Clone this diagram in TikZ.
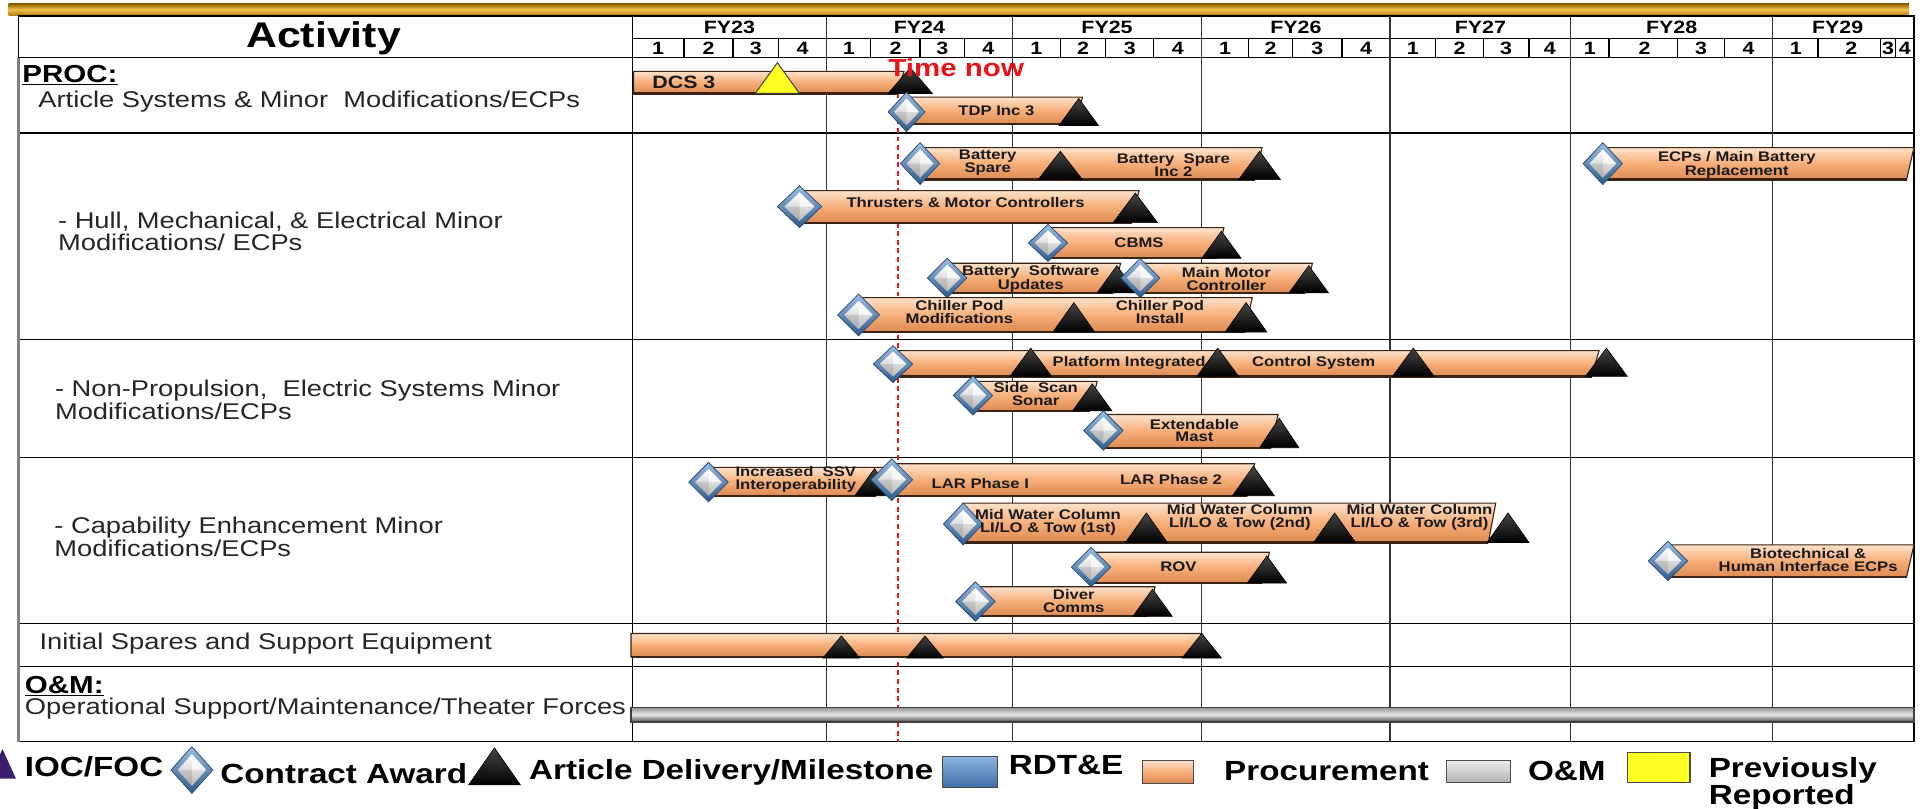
\documentclass[tikz,border=0pt]{standalone}
\usepackage{fontspec}
\setmainfont{Liberation Sans}
\definecolor{barA}{HTML}{FDE2CB}
\definecolor{barB}{HTML}{F7AE78}
\definecolor{barC}{HTML}{DC8A52}
\definecolor{barEdge}{HTML}{3A2312}
\definecolor{diaA}{HTML}{9DBCE0}
\definecolor{diaB}{HTML}{2E5B8C}
\definecolor{diaEdge}{HTML}{274C75}
\definecolor{goldA}{HTML}{8C5E00}
\definecolor{goldB}{HTML}{F3C24C}
\definecolor{goldC}{HTML}{B07C12}
\definecolor{gridc}{HTML}{333333}
\definecolor{nowred}{HTML}{E8141B}
\definecolor{iocp}{HTML}{3A1F6B}
\definecolor{rdteA}{HTML}{8DB4E2}
\definecolor{rdteB}{HTML}{3F6FA8}
\definecolor{yelA}{HTML}{FFFF22}
% orange activity bar: x1, x2, ytop, ybottom
\newcommand{\pbar}[4]{%
  \path[top color=barA, bottom color=barC, middle color=barB, draw=barEdge, line width=0.9pt]
    (#1,#3) -- (#2,#3) -- (#2-6,#4) -- (#1,#4) -- cycle;
  \draw[barEdge, line width=1.8pt] (#1,#4) -- (#2-6,#4);
}
% contract award diamond: x, y, half width, half height
\newcommand{\award}[4]{%
  \path[top color=diaA, bottom color=diaB, draw=diaEdge, line width=0.6pt]
    (#1,#2-#4) -- (#1+#3,#2) -- (#1,#2+#4) -- (#1-#3,#2) -- cycle;
  \path[top color=white, bottom color=gray!55]
    (#1,#2-0.68*#4) -- (#1+0.68*#3,#2) -- (#1,#2+0.68*#4) -- (#1-0.68*#3,#2) -- cycle;
  \fill[white, opacity=0.7] (#1,#2-0.68*#4) -- (#1+0.68*#3,#2) -- (#1,#2) -- cycle;
  \fill[gray, opacity=0.25] (#1,#2+0.68*#4) -- (#1-0.68*#3,#2) -- (#1,#2) -- cycle;
}
% milestone triangle: x, base y, half width, height
\newcommand{\mtri}[4]{%
  \path[top color=gray!55!black, bottom color=black, draw=black, line width=0.5pt]
    (#1-#3,#2) -- (#1,#2-#4) -- (#1+#3,#2) -- cycle;
}
\begin{document}
\begin{tikzpicture}[x=1pt,y=-1pt,
  lbl/.style={font=\fontsize{11.3}{10.5}\selectfont\bfseries, align=center, inner sep=0pt, xscale=1.2, text=black!90},
  hdr/.style={font=\fontsize{14.5}{14}\selectfont\bfseries, inner sep=0pt, xscale=1.2},
  side/.style={font=\fontsize{18.5}{18.5}\selectfont, align=left, anchor=west, inner sep=0pt, xscale=1.2, text=black!85},
  sect/.style={font=\fontsize{20}{20}\selectfont\bfseries, anchor=west, inner sep=0pt, xscale=1.2},
  leg/.style={font=\fontsize{22.5}{23}\selectfont\bfseries, anchor=west, inner sep=0pt, xscale=1.2},
  gridl/.style={draw=gridc, line width=1.1pt}
]
\useasboundingbox (0,0) rectangle (1565,657);
\fill[white] (0,0) rectangle (1565,657);

% golden top band
\path[top color=goldA, bottom color=goldC, middle color=goldB] (7,3) rectangle (1552,12.5);

% ---------- grid ----------
\draw[black, line width=1.1pt] (15,13) rectangle (1556,603);
\draw[black, line width=1.1pt] (514,13) -- (514,603);
\draw[black, line width=1pt] (514,31) -- (1556,31);
\foreach \yy in {47,108,276,372,507,542}
  \draw[black, line width=1.1pt] (15,\yy) -- (1556,\yy);
\foreach \xx in {672,823,977,1130,1277,1441}
  \draw[gridl] (\xx,13) -- (\xx,603);
\foreach \xx in {556,596,633,708,748,784,862,899,938,1015,1051,1091,1167,1206,1243,1308,1364,1402,1478,1529,1541}
  \draw[black, line width=1pt] (\xx,31) -- (\xx,47);
\draw[gray, line width=2.2pt] (15,47) -- (15,603);

% header texts
\node[font=\fontsize{29}{30}\selectfont\bfseries, inner sep=0pt, xscale=1.2] (act) at (263,31) {Activity};
\foreach \nm/\xx in {FY23/593, FY24/747.5, FY25/900, FY26/1053.5, FY27/1203.5, FY28/1359, FY29/1494}
  \node[hdr] (\nm) at (\xx,22.5) {\nm};
\foreach \xx/\qq [count=\i] in {535/1,576/2,614.5/3,652.5/4, 690/1,728/2,766/3,803.5/4,
   842.5/1,880.5/2,918.5/3,957.5/4, 996/1,1033/2,1071/3,1110.5/4, 1148.5/1,1186.5/2,1224.5/3,1260/4,
   1292.5/1,1337/2,1383/3,1421.5/4, 1460/1,1505/2,1535/3,1548.5/4}
  \node[hdr] (q\i) at (\xx,39.5) {\qq};

% row labels
\node[sect] (proc) at (18,61) {\underline{PROC:}};
\node[side] (art) at (31,83) {Article Systems \& Minor\ \ Modifications/ECPs};
\node[side] (hull) at (47,188) {- Hull, Mechanical,\ \& Electrical Minor\\Modifications/\ ECPs};
\node[side] (nonp) at (44.5,325) {- Non-Propulsion,\ \ Electric Systems Minor\\Modifications/ECPs};
\node[side] (capa) at (44,436.5) {- Capability Enhancement Minor\\Modifications/ECPs};
\node[side] (isse) at (32,523) {Initial Spares and Support Equipment};
\node[sect] (oandm) at (20,558) {\underline{O\&M:}};
\node[side] (opsu) at (20,576) {Operational Support/Maintenance/Theater Forces};

% time now line
\draw[nowred, line width=1pt, dash pattern=on 4pt off 3pt] (730,62) -- (730,603);

% ---------- bars ----------
% DCS 3
\pbar{515}{735}{58}{76}
\path[fill=yelA, draw=black!75, line width=0.8pt] (614,76) -- (632,51) -- (650,76) -- cycle;
\mtri{740}{76}{18}{21}
\node[lbl, font=\fontsize{14.5}{15}\selectfont\bfseries] (dcs) at (556,67) {DCS 3};
% TDP Inc 3
\pbar{737}{880}{79}{101}
\mtri{877}{102}{16}{22}
\award{737}{91}{15}{16}
\node[lbl] (tdp) at (810,90) {TDP Inc 3};
% Battery spare
\pbar{748}{1026}{120}{146}
\mtri{862}{146}{18}{23}
\mtri{1024}{146}{17}{23}
\award{748}{133}{16}{17}
\node[lbl] (bsp) at (803,132.5) {Battery\\Spare};
\node[lbl] (bsp2) at (954,134) {Battery\ \ Spare\\Inc 2};
% ECPs / Main battery
\pbar{1303}{1556}{120}{146}
\award{1303}{133}{16}{17}
\node[lbl] (ecp) at (1412,134) {ECPs / Main Battery\\Replacement};
% Thrusters
\pbar{650}{926}{155}{181}
\mtri{923}{181}{18}{24}
\award{650}{168}{18}{17}
\node[lbl] (thr) at (785,165) {Thrusters \& Motor Controllers};
% CBMS
\pbar{852}{995}{185}{210}
\mtri{993}{210}{16}{22}
\award{852}{197.5}{16}{15}
\node[lbl] (cbms) at (926,197) {CBMS};
% Battery software / main motor
\pbar{770}{911}{214}{238}
\mtri{908}{238}{16}{22}
\award{770}{226}{16}{16}
\node[lbl] (bsu) at (838,226.5) {Battery\ \ Software\\Updates};
\pbar{927}{1067}{214}{238}
\mtri{1064}{238}{16}{22}
\award{927}{226}{16}{16}
\node[lbl] (mmc) at (997,226.5) {Main Motor\\Controller};
% Chiller pod
\pbar{698}{1018}{242}{270}
\mtri{873}{270}{17}{24}
\mtri{1013}{270}{17}{24}
\award{698}{256}{17}{17}
\node[lbl] (chm) at (780,254) {Chiller Pod\\Modifications};
\node[lbl] (chi) at (943,254) {Chiller Pod\\Install};
% Platform integrated control system
\pbar{726}{1300}{285}{306}
\mtri{838}{306}{17}{23}
\mtri{990}{306}{17}{23}
\mtri{1149}{306}{17}{23}
\mtri{1306}{306}{17}{23}
\award{726}{296}{16}{15}
\node[lbl] (pint) at (918,295) {Platform Integrated};
\node[lbl] (csys) at (1068,295) {Control System};
% Side scan sonar
\pbar{791}{892}{310}{334}
\mtri{888}{334}{16}{22}
\award{791}{321.5}{16}{16}
\node[lbl] (sss) at (842,320) {Side\ \ Scan\\Sonar};
% Extendable mast
\pbar{897}{1039}{337}{364}
\mtri{1040}{364}{16}{24}
\award{897}{350}{16}{16}
\node[lbl] (ext) at (971,350) {Extendable\\Mast};
% Increased SSV
\pbar{576}{718}{380}{403}
\mtri{711}{403}{16}{22}
\award{576}{392}{16}{16}
\node[lbl] (ssv) at (647,390) {Increased\ \ SSV\\Interoperability};
% LAR
\pbar{722}{1020}{377}{403}
\mtri{1019}{403}{17}{24}
\award{725}{390}{17}{17}
\node[lbl] (lar1) at (797,393) {LAR Phase I};
\node[lbl] (lar2) at (952,390) {LAR Phase 2};
% Mid water column
\pbar{783}{1216}{409}{441}
\mtri{932}{441}{17}{24}
\mtri{1085}{441}{17}{24}
\mtri{1226}{441}{17}{24}
\award{783}{426}{16}{17}
\node[lbl] (mw1) at (852,425) {Mid Water Column\\LI/LO \& Tow (1st)};
\node[lbl] (mw2) at (1008,421) {Mid Water Column\\LI/LO \& Tow (2nd)};
\node[lbl] (mw3) at (1154,421) {Mid Water Column\\LI/LO \& Tow (3rd)};
% Biotechnical
\pbar{1356}{1556}{443}{469}
\award{1356}{456}{16}{16}
\node[lbl] (bio) at (1470,455) {Biotechnical \&\\Human Interface ECPs};
% ROV
\pbar{887}{1032}{449}{474}
\mtri{1030}{474}{16}{22}
\award{887}{461}{16}{16}
\node[lbl] (rov) at (958,461) {ROV};
% Diver comms
\pbar{793}{939}{477}{501}
\mtri{937}{501}{16}{22}
\award{793}{489}{16}{16}
\node[lbl] (div) at (873,488.5) {Diver\\Comms};
% Initial spares
\pbar{513}{977}{515}{534}
\mtri{684}{535}{15}{18}
\mtri{752}{535}{15}{18}
\mtri{977}{535}{16}{20}
% O&M bar
\path[top color=gray!85, bottom color=gray!55!black, middle color=gray!20, draw=black!75, line width=0.9pt] (513,575) rectangle (1556,587);

% time now label
\node[font=\fontsize{20}{20}\selectfont\bfseries, text=nowred, anchor=west, inner sep=0pt, xscale=1.2] (tnow) at (722,55) {Time now};

% ---------- legend ----------
\fill[iocp] (-9,633) -- (2,609) -- (13,633) -- cycle;
\node[leg] (lioc) at (20,623) {IOC/FOC};
\award{156}{626}{17}{19}
\node[leg] (lca) at (179,629) {Contract Award};
\mtri{402}{638}{21}{30}
\node[leg] (lad) at (430,628) {Article Delivery/Milestone};
\path[top color=rdteA, bottom color=rdteB, draw=black!70, line width=1pt] (766,615) rectangle (811,640);
\node[leg] (lrd) at (820,622) {RDT\&E};
\path[top color=barA, bottom color=barC, middle color=barB, draw=black!70, line width=1pt] (929,618) rectangle (970,637);
\node[leg] (lpr) at (995,627) {Procurement};
\path[top color=gray!15, bottom color=gray!60, draw=black!70, line width=1pt] (1176,618) rectangle (1228,636);
\node[leg] (lom) at (1242,627) {O\&M};
\path[fill=yelA, draw=black!70, line width=1pt] (1323,612) rectangle (1374,636);
\node[leg] (lpv) at (1389,626) {Previously};
\node[leg] (lrp) at (1389,648) {Reported};
\end{tikzpicture}
\end{document}
